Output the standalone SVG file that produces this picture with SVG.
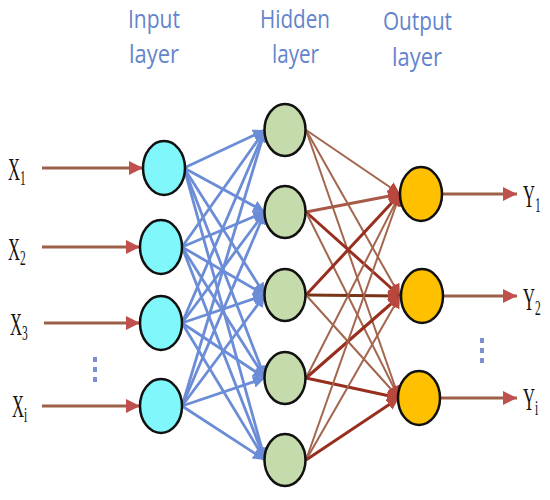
<svg xmlns="http://www.w3.org/2000/svg" width="550" height="500" viewBox="0 0 550 500">
<style>
.title{font-family:"Open Sans","Liberation Sans",sans-serif;font-size:26px;fill:#6384cc}
.lbl{font-family:"Liberation Serif",serif;font-size:32px;fill:#111}
.sub{font-size:22px}
.in{fill:#7ff7fb;stroke:#111;stroke-width:2.5}
.hid{fill:#c5dbab;stroke:#111;stroke-width:2.5}
.out{fill:#ffc000;stroke:#111;stroke-width:2.5}
.blue{stroke:#6b8cd6;stroke-width:2.8;fill:none;marker-end:url(#ab)}
.br{stroke:#a3654d;stroke-width:2;fill:none;marker-end:url(#ar)}
.dk{stroke:#982e1e;stroke-width:3;fill:none;marker-end:url(#ar)}
.io{stroke:#9c6048;stroke-width:3;fill:none;marker-end:url(#ai)}
.dots{fill:#7e8fd0}
</style>
<defs>
<marker id="ab" markerUnits="userSpaceOnUse" markerWidth="14" markerHeight="14" refX="12" refY="6" orient="auto"><path d="M0,0 L12,6 L0,12 Z" fill="#6b8cd6"/></marker>
<marker id="ar" markerUnits="userSpaceOnUse" markerWidth="14" markerHeight="14" refX="12" refY="6" orient="auto"><path d="M0,0 L12,6 L0,12 Z" fill="#b8483e"/></marker>
<marker id="ai" markerUnits="userSpaceOnUse" markerWidth="16" markerHeight="16" refX="14" refY="7" orient="auto"><path d="M0,0 L14,7 L0,14 Z" fill="#c0504d"/></marker>
</defs>

<g id="titles">
<text class="title" x="128" y="28" textLength="52" lengthAdjust="spacingAndGlyphs">Input</text>
<text class="title" x="129" y="63" textLength="50" lengthAdjust="spacingAndGlyphs">layer</text>
<text class="title" x="260" y="28" textLength="70" lengthAdjust="spacingAndGlyphs">Hidden</text>
<text class="title" x="272" y="63" textLength="47" lengthAdjust="spacingAndGlyphs">layer</text>
<text class="title" x="383" y="30" textLength="69" lengthAdjust="spacingAndGlyphs">Output</text>
<text class="title" x="392" y="66" textLength="50" lengthAdjust="spacingAndGlyphs">layer</text>
</g>

<g id="connectors">
<line class="io" x1="42" y1="168" x2="143" y2="168"/>
<line class="io" x1="42" y1="247" x2="140" y2="247"/>
<line class="io" x1="44" y1="323" x2="140" y2="323"/>
<line class="io" x1="42" y1="406" x2="140" y2="406"/>
<line class="io" x1="443" y1="194" x2="517" y2="194"/>
<line class="io" x1="443" y1="296" x2="517" y2="296"/>
<line class="io" x1="441" y1="398" x2="517" y2="398"/>

<line class="blue" x1="184" y1="168" x2="265" y2="130"/>
<line class="blue" x1="184" y1="168" x2="265" y2="212"/>
<line class="blue" x1="184" y1="168" x2="265" y2="295"/>
<line class="blue" x1="184" y1="168" x2="265" y2="378"/>
<line class="blue" x1="184" y1="168" x2="265" y2="460"/>
<line class="blue" x1="182" y1="247" x2="265" y2="130"/>
<line class="blue" x1="182" y1="247" x2="265" y2="212"/>
<line class="blue" x1="182" y1="247" x2="265" y2="295"/>
<line class="blue" x1="182" y1="247" x2="265" y2="378"/>
<line class="blue" x1="182" y1="247" x2="265" y2="460"/>
<line class="blue" x1="182" y1="323" x2="265" y2="130"/>
<line class="blue" x1="182" y1="323" x2="265" y2="212"/>
<line class="blue" x1="182" y1="323" x2="265" y2="295"/>
<line class="blue" x1="182" y1="323" x2="265" y2="378"/>
<line class="blue" x1="182" y1="323" x2="265" y2="460"/>
<line class="blue" x1="182" y1="406" x2="265" y2="130"/>
<line class="blue" x1="182" y1="406" x2="265" y2="212"/>
<line class="blue" x1="182" y1="406" x2="265" y2="295"/>
<line class="blue" x1="182" y1="406" x2="265" y2="378"/>
<line class="blue" x1="182" y1="406" x2="265" y2="460"/>

<line class="br" x1="306" y1="130" x2="400" y2="194"/>
<line class="br" x1="306" y1="130" x2="400" y2="296"/>
<line class="br" x1="306" y1="130" x2="399" y2="398"/>
<line class="dk" x1="306" y1="212" x2="400" y2="194" style="stroke:#a85a48"/>
<line class="dk" x1="306" y1="212" x2="400" y2="296"/>
<line class="br" x1="306" y1="212" x2="399" y2="398"/>
<line class="dk" x1="306" y1="295" x2="400" y2="194"/>
<line class="dk" x1="306" y1="295" x2="400" y2="296" style="stroke:#7a3418"/>
<line class="br" x1="306" y1="295" x2="399" y2="398"/>
<line class="br" x1="306" y1="378" x2="400" y2="194"/>
<line class="dk" x1="306" y1="378" x2="400" y2="296"/>
<line class="dk" x1="306" y1="378" x2="399" y2="398"/>
<line class="br" x1="306" y1="460" x2="400" y2="194"/>
<line class="br" x1="306" y1="460" x2="400" y2="296"/>
<line class="dk" x1="306" y1="460" x2="399" y2="398"/>
</g>

<g id="input-nodes">
<g id="in1"><ellipse class="in" cx="164" cy="168" rx="21" ry="27"/></g>
<g id="in2"><ellipse class="in" cx="161" cy="247" rx="21" ry="27"/></g>
<g id="in3"><ellipse class="in" cx="161" cy="323" rx="21" ry="27"/></g>
<g id="in4"><ellipse class="in" cx="161" cy="406" rx="21" ry="27"/></g>
</g>
<g id="hidden-nodes">
<g id="h1"><ellipse class="hid" cx="285" cy="130" rx="20.5" ry="26"/></g>
<g id="h2"><ellipse class="hid" cx="285" cy="212" rx="20.5" ry="26"/></g>
<g id="h3"><ellipse class="hid" cx="285" cy="295" rx="20.5" ry="26"/></g>
<g id="h4"><ellipse class="hid" cx="285" cy="378" rx="20.5" ry="26"/></g>
<g id="h5"><ellipse class="hid" cx="285" cy="460" rx="20.5" ry="26"/></g>
</g>
<g id="output-nodes">
<g id="o1"><ellipse class="out" cx="421" cy="194" rx="21" ry="27"/></g>
<g id="o2"><ellipse class="out" cx="422" cy="296" rx="21" ry="27"/></g>
<g id="o3"><ellipse class="out" cx="419" cy="398" rx="21" ry="27"/></g>
</g>

<g id="labels">
<text class="lbl" transform="translate(8,180) scale(0.52,1)">X<tspan class="sub" dy="5">1</tspan></text>
<text class="lbl" transform="translate(8,260) scale(0.52,1)">X<tspan class="sub" dy="5">2</tspan></text>
<text class="lbl" transform="translate(10,335) scale(0.52,1)">X<tspan class="sub" dy="5">3</tspan></text>
<text class="lbl" transform="translate(12,417) scale(0.52,1)">X<tspan class="sub" dy="5">i</tspan></text>
<text class="lbl" transform="translate(523,207) scale(0.52,1)">Y<tspan class="sub" dy="5">1</tspan></text>
<text class="lbl" transform="translate(523,310) scale(0.52,1)">Y<tspan class="sub" dy="5">2</tspan></text>
<text class="lbl" transform="translate(523,410) scale(0.52,1)">Y<tspan class="sub" dy="5">i</tspan></text>
</g>

<g id="dots">
<rect class="dots" x="93" y="357" width="4" height="5"/>
<rect class="dots" x="93" y="367" width="4" height="5"/>
<rect class="dots" x="93" y="377" width="4" height="5"/>
<rect class="dots" x="480" y="338" width="4" height="5"/>
<rect class="dots" x="480" y="348" width="4" height="5"/>
<rect class="dots" x="480" y="358" width="4" height="5"/>
</g>
</svg>
